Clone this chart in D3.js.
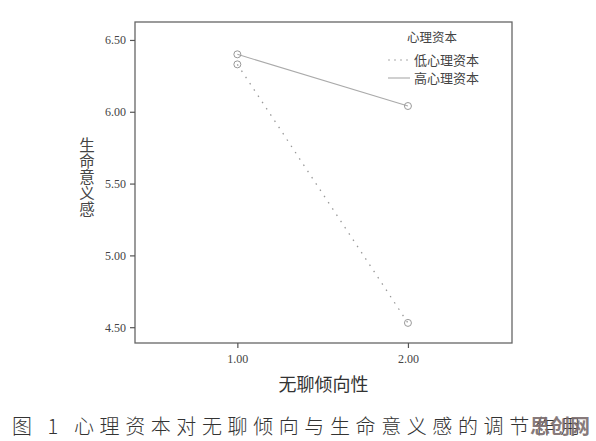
<!DOCTYPE html>
<html>
<head>
<meta charset="utf-8">
<script src="https://cdn.jsdelivr.net/npm/d3@7/dist/d3.min.js"></script>
<style>
  html, body { margin: 0; padding: 0; background: #fff; }
  svg { display: block; }
</style>
</head>
<body>
<svg id="chart" width="596" height="441"></svg>
<script>
// ---- data ----
const xValues = [1, 2];
const xTickLabels = ["1.00", "2.00"];
const lowCapital = [6.33, 4.53];   // 低心理资本
const highCapital = [6.40, 6.04];  // 高心理资本
const yTicks = [4.5, 5.0, 5.5, 6.0, 6.5];
const seriesNames = ["低心理资本", "高心理资本"];
const legendTitle = "心理资本";
const xTitle = "无聊倾向性";
const yTitle = "生命意义感";
const caption = "图 1  心理资本对无聊倾向与生命意义感的调节作用";
const watermark = "思创网";

// ---- layout ----
const svg = d3.select("#chart");
const plot = { left: 135, top: 22, right: 512, bottom: 343 };
const serif = "'Liberation Serif', 'DejaVu Serif', serif";
const cjk = "'Noto Sans CJK SC', 'Noto Sans', sans-serif";

const x = d3.scaleLinear().domain([0.4, 2.61]).range([plot.left, plot.right]);
const y = d3.scaleLinear().domain([4.39, 6.625]).range([plot.bottom, plot.top]);

// frame
svg.append("rect")
  .attr("x", plot.left).attr("y", plot.top)
  .attr("width", plot.right - plot.left).attr("height", plot.bottom - plot.top)
  .attr("fill", "none").attr("stroke", "#666").attr("stroke-width", 1.3);

// y axis
const yAxis = d3.axisLeft(y).tickValues(yTicks).tickFormat(d3.format(".2f")).tickSize(5).tickPadding(4);
const gy = svg.append("g").attr("transform", `translate(${plot.left},0)`).call(yAxis);
gy.select(".domain").remove();
gy.selectAll("line").attr("stroke", "#555").attr("stroke-width", 1.2);
gy.selectAll("text").attr("font-family", serif).attr("font-size", 12).attr("fill", "#444");

// x axis
const xAxis = d3.axisBottom(x).tickValues(xValues).tickFormat((d, i) => xTickLabels[i]).tickSize(5).tickPadding(6);
const gx = svg.append("g").attr("transform", `translate(0,${plot.bottom})`).call(xAxis);
gx.select(".domain").remove();
gx.selectAll("line").attr("stroke", "#555").attr("stroke-width", 1.2);
gx.selectAll("text").attr("font-family", serif).attr("font-size", 12).attr("fill", "#444");

// lines
const line = d3.line().x((d, i) => x(xValues[i])).y(d => y(d));
svg.append("path").datum(lowCapital).attr("d", line)
  .attr("fill", "none").attr("stroke", "#999").attr("stroke-width", 1.3)
  .attr("stroke-dasharray", "1.5,6");
svg.append("path").datum(highCapital).attr("d", line)
  .attr("fill", "none").attr("stroke", "#aaa").attr("stroke-width", 1.1);

// markers
[lowCapital, highCapital].forEach(series => {
  svg.selectAll(null).data(series).enter().append("circle")
    .attr("cx", (d, i) => x(xValues[i])).attr("cy", d => y(d)).attr("r", 3.5)
    .attr("fill", "none").attr("stroke", "#999").attr("stroke-width", 1);
});

// legend
svg.append("text").attr("x", 432).attr("y", 42).attr("text-anchor", "middle")
  .attr("font-family", cjk).attr("font-size", 12.5).attr("fill", "#444").text(legendTitle);
const legY = [60, 78];
seriesNames.forEach((name, i) => {
  svg.append("line").attr("x1", 388).attr("x2", 410).attr("y1", legY[i]).attr("y2", legY[i])
    .attr("stroke", "#aaa").attr("stroke-width", 1.1)
    .attr("stroke-dasharray", i === 0 ? "2,4" : null);
  svg.append("text").attr("x", 414).attr("y", legY[i] + 4.5)
    .attr("font-family", cjk).attr("font-size", 13).attr("fill", "#444").text(name);
});

// y title (vertical, upright characters)
svg.append("text").attr("x", 87).attr("y", 137)
  .attr("writing-mode", "vertical-rl")
  .style("text-orientation", "upright")
  .style("letter-spacing", "0.5px")
  .attr("font-family", cjk).attr("font-size", 15.5)
  .attr("fill", "#444").text(yTitle);

// x title
svg.append("text").attr("x", (plot.left + plot.right) / 2).attr("y", 391)
  .attr("text-anchor", "middle").attr("font-family", cjk).attr("font-size", 18)
  .attr("fill", "#333").text(xTitle);

// caption
svg.append("text").attr("x", 12).attr("y", 434)
  .attr("font-family", cjk).attr("font-size", 20).attr("font-weight", 300)
  .attr("letter-spacing", 5.6).attr("fill", "#333").text(caption);

// watermark
svg.append("text").attr("x", 560).attr("y", 434).attr("text-anchor", "middle")
  .attr("font-family", cjk).attr("font-size", 20).attr("font-weight", 700)
  .attr("fill", "#7d6f70").attr("opacity", 0.92).text(watermark);
</script>
</body>
</html>
